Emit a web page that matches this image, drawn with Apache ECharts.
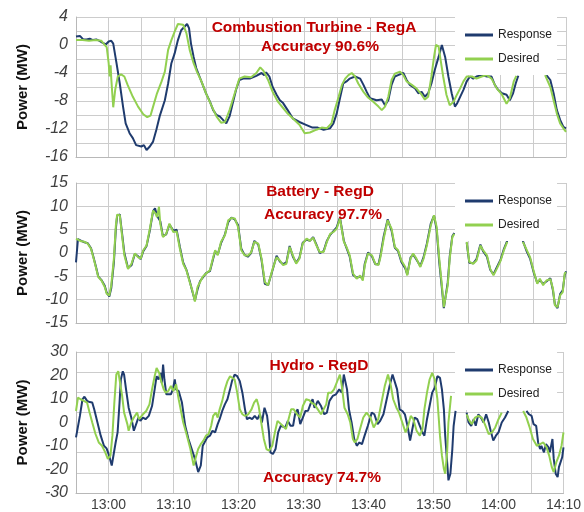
<!DOCTYPE html>
<html><head><meta charset="utf-8">
<script src="https://cdn.jsdelivr.net/npm/echarts@6/dist/echarts.min.js"></script>
<style>html,body{margin:0;padding:0;background:#fff}#c{width:584px;height:512px}</style>
</head><body><div id="c"></div>
<script>
// minutes after 12:55
const START_MIN = 775;
const xTickLabels = ['13:00','13:10','13:20','13:30','13:40','13:50','14:00','14:10'];
const ctTicks = [-16,-12,-8,-4,0,4];
const batTicks = [-15,-10,-5,0,5,10,15];
const hydTicks = [-30,-20,-10,0,10,20,30];
const seriesNames = ['Response','Desired'];
const titles = ['Combustion Turbine - RegA','Battery - RegD','Hydro - RegD'];
const accuracies = ['Accuracy 90.6%','Accuracy 97.7%','Accuracy 74.7%'];

const ctResponse = [[0,1.2],[0.3,1.4],[0.6,1.3],[1.1,0.8],[1.6,0.8],[2.1,0.9],[2.6,0.7],[3.1,0.8],[3.6,0.6],[4.1,0.3],[4.6,0.1],[5.0,0.5],[5.4,0.6],[5.7,0.2],[6.2,-2.6],[6.7,-5.5],[7.2,-8.8],[7.6,-11.2],[8.2,-12.6],[8.7,-13.3],[9.2,-14.3],[10.0,-14.5],[10.4,-14.3],[10.8,-15.0],[11.3,-14.5],[11.8,-13.8],[12.3,-12.1],[12.8,-10.2],[13.6,-7.9],[14.1,-5.5],[14.6,-2.6],[15.1,-1.2],[15.6,0.7],[16.1,2.1],[16.6,2.6],[17.0,3.0],[17.3,2.4],[17.6,0.2],[18.0,-1.7],[18.4,-3.3],[18.9,-4.5],[19.4,-5.7],[19.9,-6.9],[20.5,-8.1],[21.0,-9.3],[21.5,-10.0],[22.0,-10.2],[22.5,-10.7],[23.0,-11.2],[23.5,-10.2],[24.0,-8.3],[24.5,-6.4],[25.0,-5.0],[25.6,-4.8],[26.6,-4.8],[27.6,-4.4],[28.4,-4.0],[28.8,-4.3],[29.1,-3.9],[29.6,-4.5],[30.1,-6.0],[30.7,-7.1],[31.2,-7.9],[31.7,-8.3],[32.4,-9.3],[33.2,-10.5],[34.2,-11.0],[35.2,-11.4],[36.2,-11.8],[37.0,-11.8],[37.9,-12.1],[38.9,-11.9],[39.4,-11.2],[39.9,-9.8],[40.4,-7.6],[40.9,-5.5],[41.4,-5.2],[41.9,-4.8],[42.7,-4.5],[43.5,-4.8],[44.0,-5.7],[44.5,-6.7],[45.0,-7.6],[46.0,-7.9],[46.8,-7.8],[47.3,-8.6],[47.8,-7.9],[48.3,-5.7],[48.8,-4.5],[49.3,-4.3],[50.1,-4.0],[50.6,-5.0],[51.1,-5.7],[51.9,-6.2],[52.4,-6.9],[52.9,-6.7],[53.4,-7.4],[53.9,-6.9],[54.4,-5.5],[54.9,-3.6],[55.5,-1.7],[56.0,0.0],[56.2,-0.1],[56.5,-1.7],[57.0,-4.5],[57.5,-6.9],[58.0,-8.8],[58.3,-8.4],[58.8,-7.4],[59.3,-6.4],[59.8,-5.2],[60.3,-4.5],[60.8,-4.8],[61.3,-4.5],[62.1,-4.3],[62.9,-4.5],[63.6,-4.5],[64.1,-5.7],[64.6,-6.4],[65.2,-6.9],[65.9,-7.1],[66.4,-7.9],[66.9,-6.9],[67.3,-5.5],[67.7,-4.4],[69.8,null],[72.0,-4.3],[72.6,-5.0],[73.1,-6.9],[73.6,-9.3],[74.1,-10.7],[74.6,-11.7],[75.0,-11.9]];
const ctDesired = [[0,0.7],[1,0.7],[2,0.6],[3,0.7],[3.9,0.6],[4.4,0.0],[4.7,-0.3],[5.0,-2.6],[5.15,-4.5],[5.3,-2.9],[5.4,-4.8],[5.55,-6.9],[5.7,-8.9],[6.0,-6.4],[6.4,-4.5],[6.9,-4.2],[7.4,-4.5],[7.9,-5.7],[8.7,-7.4],[9.5,-8.8],[10.3,-9.9],[10.9,-10.3],[11.4,-10.1],[11.8,-8.8],[12.4,-6.9],[13.1,-5.2],[13.6,-3.8],[14.1,-0.7],[14.6,0.7],[15.1,1.9],[15.6,3.0],[16.4,2.9],[16.9,1.7],[17.4,-0.7],[18.0,-2.6],[18.5,-3.8],[19.2,-5.2],[19.9,-6.9],[20.7,-8.6],[21.5,-10.2],[22.2,-11.1],[22.8,-11.0],[23.5,-9.3],[24.3,-6.9],[25.0,-4.8],[25.8,-4.5],[26.8,-4.6],[27.6,-4.0],[28.2,-3.2],[28.7,-3.7],[29.4,-5.0],[30.1,-6.7],[30.9,-8.1],[31.7,-9.0],[32.4,-9.8],[33.2,-10.5],[34.2,-11.4],[35.0,-12.6],[35.8,-12.5],[36.8,-12.1],[37.6,-11.8],[38.4,-11.9],[39.1,-11.2],[39.6,-9.3],[40.2,-7.4],[40.7,-5.7],[41.2,-4.8],[41.7,-4.3],[42.2,-4.0],[42.7,-4.5],[43.2,-5.5],[44.0,-6.7],[44.7,-7.5],[45.5,-8.1],[46.3,-8.8],[46.8,-9.3],[47.3,-8.8],[47.8,-7.4],[48.3,-5.0],[48.8,-4.1],[49.6,-3.8],[50.1,-4.3],[50.6,-5.2],[51.4,-5.7],[52.1,-6.2],[52.9,-7.1],[53.4,-7.8],[53.9,-7.4],[54.4,-4.5],[54.8,-1.7],[55.1,0.0],[55.5,-0.2],[55.8,-2.1],[56.2,-4.5],[56.7,-7.1],[57.2,-8.6],[57.8,-8.1],[58.3,-7.1],[58.8,-6.2],[59.3,-5.2],[59.8,-4.5],[60.6,-4.5],[61.3,-4.8],[62.1,-4.5],[62.9,-4.3],[63.6,-4.8],[64.4,-6.2],[65.2,-7.1],[65.9,-8.4],[66.4,-7.6],[67.0,-5.2],[67.4,-4.4],[69.6,null],[71.8,-4.3],[72.6,-6.0],[73.1,-7.9],[73.6,-9.8],[74.1,-11.2],[74.6,-11.9],[75.0,-12.4]];

const batResponse = [[0,-2.0],[0.3,3.0],[0.8,2.6],[1.3,2.3],[1.8,2.1],[2.3,1.0],[2.7,-1.0],[3.1,-3.2],[3.4,-5.0],[3.9,-5.8],[4.4,-7.0],[4.7,-8.5],[5.1,-9.3],[5.4,-7.5],[5.8,-2.0],[6.1,5.2],[6.3,8.0],[6.7,8.3],[7.1,3.6],[7.4,0.0],[7.96,-3.2],[8.5,-2.6],[9.0,-0.2],[9.5,-0.7],[9.9,-1.3],[10.3,0.4],[10.8,1.5],[11.3,4.8],[11.8,9.0],[12.1,9.6],[12.4,8.0],[12.9,6.8],[13.3,3.6],[13.8,4.0],[14.3,6.1],[14.6,6.3],[14.9,4.8],[15.4,5.0],[15.9,1.3],[16.4,-2.0],[16.9,-3.6],[17.4,-6.0],[17.8,-8.2],[18.2,-10.2],[18.6,-7.8],[19.0,-6.0],[19.4,-5.3],[19.9,-4.3],[20.5,-3.9],[21.0,-1.2],[21.3,0.4],[21.7,-0.3],[22.2,2.1],[22.8,4.0],[23.3,6.6],[23.8,7.6],[24.3,7.2],[24.8,6.0],[25.3,0.9],[25.8,-0.4],[26.3,-0.8],[26.8,0.0],[27.3,2.6],[27.9,1.8],[28.4,-1.5],[28.9,-6.6],[29.4,-6.9],[29.6,-6.6],[30.1,-3.6],[30.7,-0.6],[31.2,-1.8],[31.7,-2.4],[32.2,-2.0],[32.7,1.5],[33.2,-0.8],[33.7,-2.1],[34.2,-1.0],[34.7,2.2],[35.3,2.9],[35.8,2.6],[36.3,3.4],[36.8,1.8],[37.3,0.0],[37.9,0.4],[38.4,2.6],[38.9,3.9],[39.4,4.7],[39.9,5.5],[40.4,7.6],[40.7,7.5],[41.0,2.6],[41.4,1.1],[41.9,-0.8],[42.4,-4.7],[42.96,-5.3],[43.5,-5.0],[43.9,-5.6],[44.2,-2.3],[44.7,0.1],[45.3,-0.7],[45.8,-2.4],[46.3,-2.4],[46.6,-0.5],[47.1,3.6],[47.7,7.2],[48.0,7.2],[48.3,4.8],[48.8,1.1],[49.3,0.4],[49.8,-1.9],[50.4,-3.3],[50.7,-4.6],[51.2,-1.0],[51.6,-0.3],[52.1,-1.4],[52.7,-2.8],[53.2,-0.9],[53.7,2.0],[54.3,6.3],[54.8,8.0],[55.2,5.0],[55.6,-2.0],[56.0,-7.5],[56.3,-11.8],[56.6,-11.6],[56.9,-6.3],[57.2,-0.8],[57.6,3.6],[57.9,4.3],[58.8,null],[59.8,2.2],[60.2,-2.1],[60.8,-2.2],[61.3,-1.3],[61.9,1.8],[62.3,0.4],[62.9,-0.8],[63.4,-3.6],[63.9,-4.6],[64.4,-3.1],[65.0,-1.4],[65.5,0.9],[66.0,2.6],[67.2,null],[68.4,2.6],[69.0,0.3],[69.5,-1.2],[70.1,-4.4],[70.6,-6.4],[71.0,-5.8],[71.5,-6.6],[72.0,-6.1],[72.6,-5.4],[73.0,-8.0],[73.3,-11.0],[73.7,-11.8],[74.1,-8.8],[74.5,-8.0],[74.8,-4.8],[75.0,-3.9]];
const batDesired = [[0,3.1],[0.3,3.1],[0.8,2.5],[1.3,2.4],[1.8,2.0],[2.3,0.9],[2.7,-1.2],[3.1,-3.4],[3.4,-5.1],[3.9,-5.9],[4.4,-7.3],[4.7,-8.7],[5.1,-9.1],[5.4,-6.9],[5.8,-1.2],[6.1,5.9],[6.3,8.2],[6.7,8.1],[7.1,3.1],[7.4,-0.5],[7.96,-3.4],[8.5,-2.3],[9.0,-0.1],[9.5,-0.9],[9.9,-1.2],[10.3,0.6],[10.8,1.6],[11.3,5.2],[11.8,9.1],[12.2,8.4],[12.4,7.7],[12.7,9.9],[12.9,6.3],[13.3,3.4],[13.8,4.1],[14.3,6.3],[14.6,6.1],[14.9,4.5],[15.4,4.6],[15.9,0.9],[16.4,-2.3],[16.9,-3.7],[17.4,-6.2],[17.8,-8.0],[18.2,-10.4],[18.6,-7.3],[19.0,-6.2],[19.4,-5.1],[19.9,-4.4],[20.5,-3.7],[21.0,-0.9],[21.3,0.6],[21.7,-0.5],[22.2,2.4],[22.8,3.8],[23.3,7.0],[23.8,7.5],[24.3,7.4],[24.8,5.6],[25.3,0.6],[25.8,-0.5],[26.3,-0.6],[26.8,0.1],[27.3,2.4],[27.9,2.0],[28.4,-1.2],[28.9,-6.2],[29.4,-6.9],[29.6,-6.8],[30.1,-3.4],[30.7,-0.9],[31.2,-1.6],[31.7,-2.6],[32.2,-2.3],[32.7,1.3],[33.2,-0.5],[33.7,-2.3],[34.2,-1.2],[34.7,2.0],[35.3,3.1],[35.8,2.6],[36.3,3.3],[36.8,1.6],[37.3,0.2],[37.9,0.2],[38.4,2.4],[38.9,4.1],[39.4,4.5],[39.9,5.2],[40.4,7.4],[40.7,7.7],[41.0,2.4],[41.4,1.3],[41.9,-0.5],[42.4,-4.4],[42.96,-5.5],[43.5,-4.8],[43.9,-5.9],[44.2,-2.6],[44.7,-0.1],[45.3,-0.5],[45.8,-2.3],[46.3,-2.6],[46.6,-0.9],[47.1,3.1],[47.7,7.0],[48.0,7.4],[48.3,5.2],[48.8,1.3],[49.3,0.6],[49.8,-1.6],[50.4,-3.0],[50.7,-4.8],[51.2,-1.2],[51.6,-0.1],[52.1,-1.2],[52.7,-3.0],[53.2,-1.2],[53.7,1.6],[54.3,5.9],[54.8,8.1],[55.2,5.6],[55.6,-1.2],[56.0,-6.9],[56.3,-11.6],[56.6,-11.9],[56.9,-6.9],[57.2,-1.2],[57.6,3.4],[57.9,4.1],[58.8,null],[59.8,2.4],[60.2,-1.9],[60.8,-2.3],[61.3,-1.6],[61.9,1.6],[62.3,0.6],[62.9,-0.5],[63.4,-3.4],[63.9,-4.8],[64.4,-3.4],[65.0,-1.6],[65.5,0.6],[66.0,2.4],[67.2,null],[68.4,2.4],[69.0,0.6],[69.5,-0.9],[70.1,-4.1],[70.6,-6.6],[71.0,-5.5],[71.5,-6.9],[72.0,-5.9],[72.6,-5.6],[73.0,-7.6],[73.3,-11.2],[73.7,-11.6],[74.1,-9.1],[74.5,-8.4],[74.8,-4.4],[75.0,-4.1]];

const hydResponse = [[0,-6.3],[0.2,-7],[0.6,2.8],[1,9.9],[1.3,11],[1.7,9.2],[2.1,8.7],[2.5,8.5],[2.8,5.6],[3.3,0],[3.8,-5.6],[4.3,-9.9],[4.7,-11],[5.1,-14.1],[5.5,-18.3],[5.8,-13.4],[6.1,-8.5],[6.4,-4.2],[6.7,8.5],[6.9,18.3],[7.2,21.8],[7.4,20.4],[7.7,14.1],[8.1,6.3],[8.5,2.1],[8.9,-3.5],[9.2,-4.2],[9.6,2.1],[9.9,0.7],[10.3,2.1],[10.7,1.4],[11.2,2.8],[11.7,7],[12.1,14.1],[12.4,19.7],[12.7,18.3],[13,21.1],[13.2,16.9],[13.4,24.6],[13.6,18.3],[13.9,12],[14.2,12.7],[14.6,12],[14.9,14.1],[15.2,18.3],[15.4,14.1],[15.8,13.4],[16.3,8.5],[16.8,-1.4],[17.3,-7],[17.8,-11.3],[18.3,-15.5],[18.8,-21.1],[19.2,-18.3],[19.5,-9.9],[19.8,-9.9],[20.2,-6.3],[20.6,-5.6],[21,-3.5],[21.4,-4.2],[21.8,-0.7],[22.1,1.4],[22.5,4.9],[22.9,7.7],[23.3,9.9],[23.7,14.1],[24,17.6],[24.4,20.4],[24.8,19.7],[25.2,17.6],[25.6,12.7],[26,5.6],[26.3,1.4],[26.7,2.1],[27.1,1.4],[27.5,2.8],[27.9,1.4],[28.3,3.5],[28.6,0],[29,6.3],[29.4,2.8],[29.7,-4.2],[29.9,-12.7],[30.3,-13.4],[30.7,-11.3],[31.1,-4.2],[31.5,-1.4],[31.8,-0.7],[32.2,-2.1],[32.6,0.7],[33,-1.4],[33.4,-1.4],[33.7,3.5],[34.1,5.6],[34.5,-0.7],[34.9,2.1],[35.3,4.9],[35.7,5.0],[36.1,8.0],[36.4,9.9],[36.7,6.3],[37.2,9.2],[37.7,7],[38.2,3.5],[38.6,4.2],[39,9.2],[39.5,11.3],[40,12],[40.5,14.1],[40.9,12.7],[41.2,20.4],[41.4,20.4],[41.7,14.1],[42,5.6],[42.4,0],[42.8,-7],[43.2,-9.9],[43.6,-8.5],[44,-9.2],[44.4,-5.6],[44.9,-1.4],[45.5,4.2],[45.9,3.5],[46.4,-0.7],[46.8,0.7],[47.3,3.5],[47.8,9.9],[48.3,16.2],[48.7,20.4],[49,19.7],[49.4,14.1],[49.8,5.6],[50.2,4.9],[50.6,3.5],[51,-1.4],[51.4,-7.7],[51.7,-3.5],[52.1,2.1],[52.5,1.4],[52.9,-1.4],[53.3,-4.2],[53.6,-5.6],[54,1.4],[54.4,7],[54.8,12.7],[55.2,14.8],[55.6,19.7],[56,19],[56.3,14.1],[56.6,5.6],[56.8,-5.6],[57.1,-16.9],[57.3,-24.6],[57.6,-21.8],[57.9,-11.3],[58.1,-1.4],[58.4,4.9],[59.2,null],[60.1,4.2],[60.4,0],[60.8,-1.4],[61.2,1.4],[61.5,-1.4],[61.9,3.5],[62.3,2.1],[62.7,0],[63.1,3.5],[63.5,0],[63.8,-3.5],[64.2,-7.7],[64.6,-5.6],[65,-4.2],[65.5,0],[66,2.1],[66.5,4.9],[68,null],[69.3,4.9],[69.7,3.5],[70.1,2.8],[70.4,-0.7],[70.8,-1.4],[71.1,-8.5],[71.4,-11.3],[71.6,-9.9],[72,-12.7],[72.3,-9.2],[72.7,-10.6],[72.9,-12.7],[73.3,-7],[73.5,-15.5],[73.8,-21.8],[74.1,-23.2],[74.3,-19],[74.6,-18.3],[74.8,-14.8],[75,-10.6]];
const hydDesired = [[0,4.9],[0.3,10.6],[0.7,9.9],[1.2,9.2],[1.7,8.5],[2.1,4.2],[2.5,0],[3,-4.9],[3.5,-8.5],[4,-9.9],[4.5,-12.7],[4.9,-15.5],[5.3,-14.1],[5.6,-5.6],[5.9,8.5],[6.2,20.4],[6.5,21.8],[6.7,18.3],[7.1,11.3],[7.4,4.2],[7.9,-0.7],[8.1,-3.5],[8.5,0],[8.9,2.1],[9.4,4.2],[9.7,1.4],[10.3,3.5],[10.8,4.9],[11.3,7.7],[11.7,14.1],[12.1,19.7],[12.4,23.2],[12.8,21.1],[13.1,17.6],[13.5,14.1],[13.8,12.7],[14.2,13.4],[14.6,15.5],[15,13.4],[15.4,16.2],[15.8,9.9],[16.2,4.2],[16.5,0],[17,-4.9],[17.6,-11.3],[18.1,-18.3],[18.5,-14.1],[18.8,-11.3],[19.2,-9.2],[19.6,-7.7],[20,-5.6],[20.4,-4.9],[20.8,-1.4],[21.1,2.8],[21.5,4.2],[21.8,2.1],[22.1,5.6],[22.5,9.2],[22.9,14.1],[23.3,17.6],[23.7,19.7],[24,20.4],[24.4,18.3],[24.8,12.7],[25.2,5.6],[25.6,3.5],[26,2.8],[26.5,3.5],[27,5.6],[27.4,8.5],[27.8,9.9],[28.1,7],[28.5,0],[28.9,-7],[29.3,-11.3],[29.7,-12],[30.2,-9.9],[30.6,-4.2],[31,0.7],[31.3,1.4],[31.8,-1.4],[32.3,-2.8],[32.7,1.4],[33.1,5.6],[33.5,5.6],[34,3.5],[34.5,2.1],[34.9,7],[35.4,9.9],[35.9,9.5],[36.2,8.5],[36.7,7.7],[37.2,5.6],[37.7,3.5],[38.1,5.6],[38.5,7.7],[38.8,12.7],[39.3,12.7],[39.7,14.1],[40.3,18.3],[40.6,20.4],[40.9,15.5],[41.3,6.3],[41.8,3.5],[42.2,0],[42.6,-7],[42.9,-8.5],[43.3,-7],[43.7,-2.8],[44.2,2.1],[44.7,4.2],[45.3,2.1],[45.8,-2.1],[46.1,-2.8],[46.5,1.4],[47,8.5],[47.5,15.5],[48,20.4],[48.4,16.2],[48.8,9.9],[49.3,6.3],[49.7,4.2],[50.2,0],[50.7,-4.2],[51.1,-1.4],[51.5,2.8],[51.9,1.4],[52.4,-3.5],[52.9,-5.6],[53.3,-2.8],[53.6,5.6],[54,12.7],[54.4,18.3],[54.8,21.1],[55.2,18.3],[55.6,9.9],[56,-5.6],[56.3,-14.1],[56.6,-19.7],[56.8,-21.8],[57.1,-12.7],[57.3,0],[57.7,11.3],[58.9,null],[60.1,3.5],[60.4,1.4],[60.9,-0.7],[61.4,2.1],[61.9,2.8],[62.4,2.1],[62.9,-0.7],[63.5,-4.9],[64,-4.2],[64.5,-2.1],[65,1.4],[65.5,4.2],[67.2,null],[68.8,4.9],[69.3,2.1],[69.8,-2.1],[70.3,-7],[70.9,-9.9],[71.4,-9.2],[71.9,-8.5],[72.4,-10.6],[72.8,-14.1],[73.2,-19],[73.5,-21.1],[73.9,-16.9],[74.3,-14.1],[74.7,-9.9],[75,-4.2]];

// ---- layout / style ----
const panels = [
  {resp: ctResponse, des: ctDesired, ticks: ctTicks, min:-16, max:4, step:2, top:17, height:140,
   gridSplits:10, t1:[314,28], t2:[320,47]},
  {resp: batResponse, des: batDesired, ticks: batTicks, min:-15, max:15, step:5, top:183, height:140,
   gridSplits:6, t1:[320,192], t2:[323,215]},
  {resp: hydResponse, des: hydDesired, ticks: hydTicks, min:-30, max:30, step:10, top:352, height:142,
   gridSplits:7, t1:[319,366], t2:[322,478]}
];
const RESP_COLOR = '#1f3b6e';
const DES_COLOR = '#92d050';
const GRID_COLOR = '#cccccc';
const AXIS_COLOR = '#b8b8b8';
const toXY = arr => arr.map(p => [START_MIN + p[0], p[1] === null ? '-' : p[1]]);
const fmtTime = v => {
  const h = Math.floor(v/60), m = v % 60;
  const s = h + ':' + (m < 10 ? '0' + m : m);
  return xTickLabels.indexOf(s) >= 0 ? s : '';
};

const yAxes = panels.map((p,i) => ({
  gridIndex:i, type:'value', min:p.min, max:p.max, interval:p.step,
  axisLine:{show:true, lineStyle:{color:AXIS_COLOR, width:1}},
  axisTick:{show:false},
  splitLine:{show:false},
  axisLabel:{formatter: v => p.ticks.indexOf(v) >= 0 ? String(v) : '',
    fontFamily:'Liberation Sans', fontStyle:'italic', fontSize:16, color:'#404040', margin:8},
  name:'Power (MW)', nameLocation:'middle', nameGap:46,
  nameTextStyle:{fontFamily:'Liberation Sans', fontWeight:'bold', fontSize:15, color:'#111'}
}));
// gridline-only axes (the horizontal gridlines of each panel)
const gridAxes = panels.map((p,i) => ({
  gridIndex:i, type:'value', min:0, max:p.gridSplits, interval:1, position:'left',
  axisLine:{show:false}, axisTick:{show:false}, axisLabel:{show:false},
  splitLine:{show:true, lineStyle:{color:GRID_COLOR, width:1}}
}));

const chart = echarts.init(document.getElementById('c'), null, {renderer:'canvas'});
const option = {
  animation: false,
  backgroundColor: '#fff',
  grid: panels.map(p => ({left:76, right:18, top:p.top, height:p.height})),
  xAxis: panels.map((p,i) => ({
    gridIndex:i, type:'value', min:START_MIN, max:START_MIN+75, interval:5,
    axisLine:{show:true, onZero:false, lineStyle:{color:AXIS_COLOR, width:1}},
    axisTick:{show:false},
    splitLine:{show:true, lineStyle:{color:GRID_COLOR, width:1}},
    axisLabel:{show:i===2, formatter:fmtTime, fontFamily:'Liberation Sans', fontSize:14, color:'#404040', margin:5}
  })),
  yAxis: yAxes.concat(gridAxes),
  legend: panels.map((p,i) => ({
    data: seriesNames, orient:'vertical', left:455, top:p.top,
    backgroundColor:'#ffffff', padding:[11,5,9,10], itemGap:10,
    icon:'rect', itemWidth:28, itemHeight:3, selectedMode:false,
    textStyle:{fontFamily:'Liberation Sans', fontSize:12, color:'#222', lineHeight:14}
  })),
  series: [].concat(...panels.map((p,i) => [
    {name:seriesNames[0], type:'line', xAxisIndex:i, yAxisIndex:i, data:toXY(p.resp),
     showSymbol:false, symbol:'none', connectNulls:false, lineStyle:{color:RESP_COLOR, width:2}, itemStyle:{color:RESP_COLOR}},
    {name:seriesNames[1], type:'line', xAxisIndex:i, yAxisIndex:i, data:toXY(p.des),
     showSymbol:false, symbol:'none', connectNulls:false, lineStyle:{color:DES_COLOR, width:2}, itemStyle:{color:DES_COLOR}}
  ])),
  graphic: [].concat(...panels.map((p,i) => [
    {type:'text', x:p.t1[0], y:p.t1[1], z:10, style:{text:titles[i], textAlign:'center', textVerticalAlign:'middle',
      fill:'#c00000', font:'bold 15.5px "Liberation Sans"'}},
    {type:'text', x:p.t2[0], y:p.t2[1], z:10, style:{text:accuracies[i], textAlign:'center', textVerticalAlign:'middle',
      fill:'#c00000', font:'bold 15.5px "Liberation Sans"'}}
  ]))
};
chart.setOption(option);
</script>
</body></html>
